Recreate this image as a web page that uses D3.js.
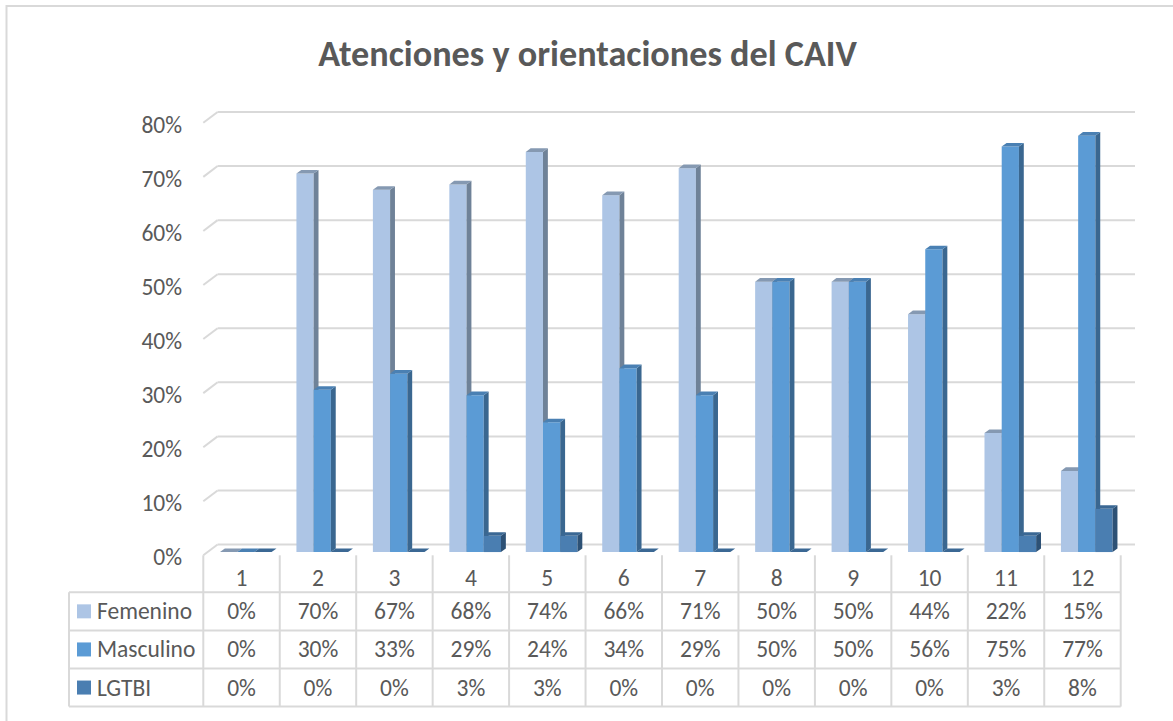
<!DOCTYPE html>
<html>
<head>
<meta charset="utf-8">
<script src="https://cdn.jsdelivr.net/npm/d3@7"></script>
<style>
  html, body { margin: 0; padding: 0; background: #ffffff; }
  svg { display: block; }
  text { font-family: Carlito, Calibri, Lato, "Open Sans", sans-serif; fill: #595959; }
</style>
</head>
<body>
<svg id="chart" width="1173" height="721"></svg>
<script>
// ---------- data ----------
const title = "Atenciones y orientaciones del CAIV";
const categories = ["1","2","3","4","5","6","7","8","9","10","11","12"];
const seriesNames = ["Femenino","Masculino","LGTBI"];
const femenino  = [0.00,0.70,0.67,0.68,0.74,0.66,0.71,0.50,0.50,0.44,0.22,0.15];
const masculino = [0.00,0.30,0.33,0.29,0.24,0.34,0.29,0.50,0.50,0.56,0.75,0.77];
const lgtbi     = [0.00,0.00,0.00,0.03,0.03,0.00,0.00,0.00,0.00,0.00,0.03,0.08];
const yTickValues = [0,0.1,0.2,0.3,0.4,0.5,0.6,0.7,0.8];

const seriesValues = [femenino, masculino, lgtbi];
const colors = {
  Femenino:  {front:"#ADC5E5", side:"#6F8298", top:"#8599B2", key:"#ADC5E5"},
  Masculino: {front:"#5B9BD5", side:"#3A6790", top:"#4A80B3", key:"#5B9BD5"},
  LGTBI:     {front:"#4A7EB1", side:"#2D5175", top:"#3B6894", key:"#4A7EB1"}
};

const svg = d3.select("#chart");
const gridColor = "#D9D9D9";
const fs = "23.5px";

// outer chart border
svg.append("rect").attr("x",6.5).attr("y",6).attr("width",1180).attr("height",730)
  .attr("fill","none").attr("stroke",gridColor).attr("stroke-width",2);

// ---------- layout ----------
const x0 = 203.3, x1 = 1120.7;           // front plane of floor
const DX = 14.3, DY = 10.8;               // depth offset (back wall = front + DX, -DY)
const y = d3.scaleLinear().domain([0,0.8]).range([544.5,112]);  // back wall coords
const xCat = d3.scaleBand().domain(categories).range([x0,x1]).padding(0);
const xSer = d3.scaleBand().domain(seriesNames).range([0,xCat.bandwidth()])
  .paddingInner(0).paddingOuter(0.72);
const F1 = 0.30, F2 = 0.64; // bar depth (front / back fraction)

const P = (x, yb, d) => [x + d*DX, yb + (1-d)*DY];

// ---------- title ----------
const t = svg.append("text").attr("x",587.5).attr("y",66).attr("text-anchor","middle")
  .style("font-weight","bold").style("font-size","34px").text(title);
const tw = t.node().getComputedTextLength();
t.style("font-size", (34*539/tw).toFixed(2)+"px");

// ---------- gridlines ----------
const grid = svg.append("g");
yTickValues.forEach(v => {
  const yb = y(v);
  grid.append("line").attr("x1",x0+DX).attr("x2",x1+DX).attr("y1",yb).attr("y2",yb)
    .attr("stroke",gridColor).attr("stroke-width",2);
  grid.append("line").attr("x1",x0).attr("y1",yb+DY).attr("x2",x0+DX).attr("y2",yb)
    .attr("stroke",gridColor).attr("stroke-width",2);
});

// y axis labels
svg.append("g").selectAll("text").data(yTickValues).join("text")
  .attr("x",182).attr("y",d => y(d)+DY+2)
  .attr("text-anchor","end").attr("dominant-baseline","central")
  .style("font-size",fs)
  .text(d3.format(".0%"));

// ---------- bars ----------
const bars = svg.append("g");
categories.forEach((c, i) => {
  seriesNames.forEach((s, k) => {
    const v = seriesValues[k][i];
    const xl = xCat(c) + xSer(s), xr = xl + xSer.bandwidth();
    const yt = y(v), yb = y(0);
    const col = colors[s];
    const pts = a => a.map(p => p.join(",")).join(" ");
    if (v > 0) {
      bars.append("polygon").attr("fill",col.front)
        .attr("points",pts([P(xl,yt,F1),P(xr,yt,F1),P(xr,yb,F1),P(xl,yb,F1)]));
      bars.append("polygon").attr("fill",col.side)
        .attr("points",pts([P(xr,yt,F1),P(xr,yt,F2),P(xr,yb,F2),P(xr,yb,F1)]));
    }
    bars.append("polygon").attr("fill",col.top)
      .attr("points",pts([P(xl,yt,F1),P(xr,yt,F1),P(xr,yt,F2),P(xl,yt,F2)]));
  });
});

// ---------- data table ----------
const tableTop = 555.3;
const rowsY = [592.3, 630.4, 668.5, 706.6];
const legendLeft = 69;
const tbl = svg.append("g");
const colEdges = categories.map(c => xCat(c)).concat([x1]);
colEdges.forEach(xe => {
  tbl.append("line").attr("x1",xe).attr("x2",xe).attr("y1",tableTop).attr("y2",rowsY[3])
    .attr("stroke",gridColor).attr("stroke-width",2);
});
tbl.append("line").attr("x1",legendLeft).attr("x2",legendLeft).attr("y1",rowsY[0]).attr("y2",rowsY[3])
  .attr("stroke",gridColor).attr("stroke-width",2);
rowsY.forEach(ry => {
  tbl.append("line").attr("x1",legendLeft).attr("x2",x1).attr("y1",ry).attr("y2",ry)
    .attr("stroke",gridColor).attr("stroke-width",2);
});
tbl.selectAll("text.cat").data(categories).join("text").attr("class","cat")
  .attr("x",c => xCat(c)+xCat.bandwidth()/2).attr("y",(tableTop+rowsY[0])/2+4)
  .attr("text-anchor","middle").attr("dominant-baseline","central")
  .style("font-size",fs).text(c => c);
seriesNames.forEach((s, k) => {
  const cy = (rowsY[k]+rowsY[k+1])/2;
  tbl.append("rect").attr("x",77).attr("y",cy-7).attr("width",14).attr("height",14)
    .attr("fill",colors[s].key);
  tbl.append("text").attr("x",97).attr("y",cy).attr("dominant-baseline","central")
    .style("font-size",fs).text(s);
  tbl.selectAll("text.v"+k).data(seriesValues[k]).join("text").attr("class","v"+k)
    .attr("x",(d,i) => xCat(categories[i])+xCat.bandwidth()/2).attr("y",cy)
    .attr("text-anchor","middle").attr("dominant-baseline","central")
    .style("font-size",fs).text(d => d3.format(".0%")(d));
});
</script>
</body>
</html>
